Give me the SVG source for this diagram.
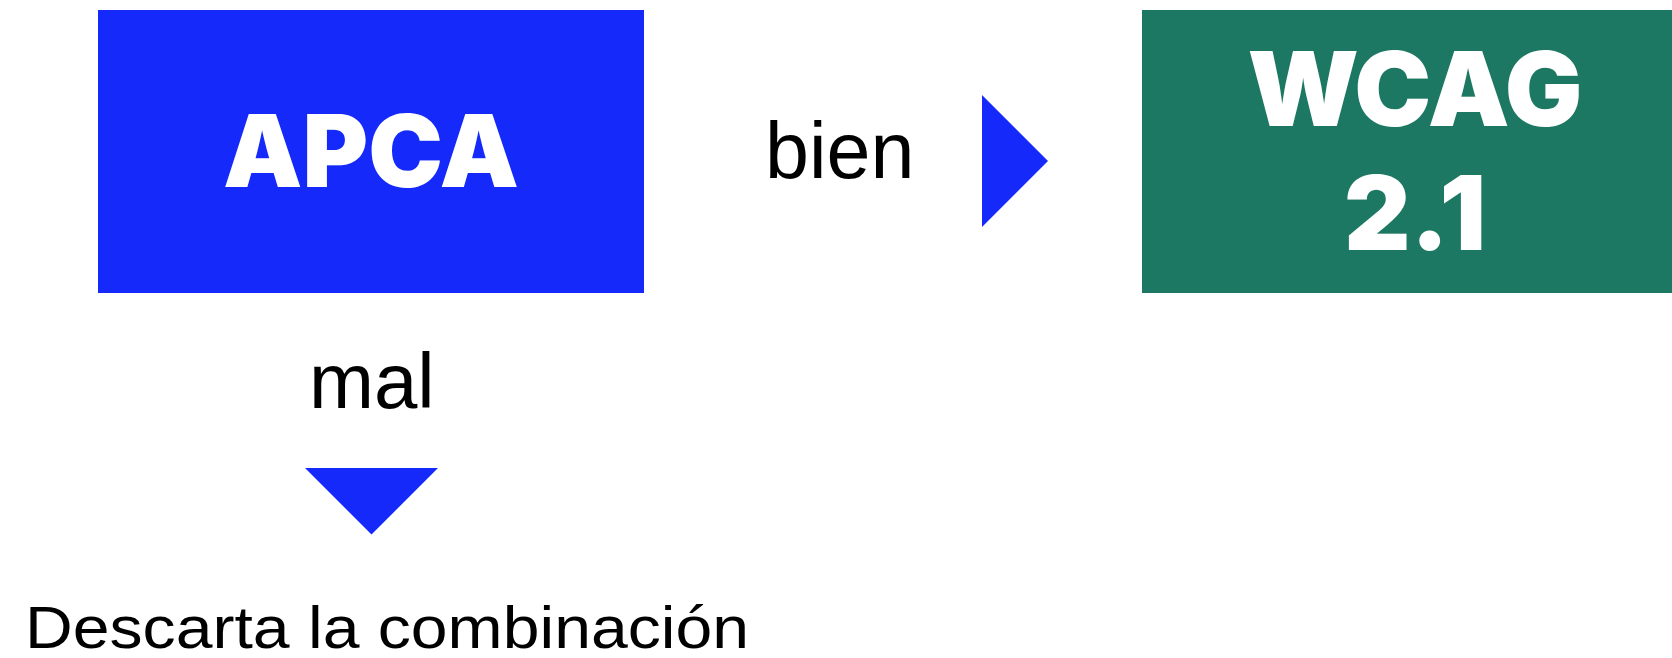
<svg xmlns="http://www.w3.org/2000/svg" width="1672" height="658" viewBox="0 0 1672 658">
<style>
.box-title{font-family:Inter,"Lato","Liberation Sans",sans-serif;font-weight:900;fill:#ffffff;text-anchor:middle}
.lbl{font-family:"Liberation Sans",Arial,sans-serif;fill:#000000}
.arrow{fill:#1529FA}
</style>
<rect width="1672" height="658" fill="#ffffff"/>
<g id="apca">
<rect x="98" y="10" width="546" height="283" fill="#1529FA"/>
<text class="box-title" x="371" y="187" font-size="100">APCA</text>
</g>
<g id="wcag">
<rect x="1142" y="10" width="530" height="283" fill="#1C7862"/>
<text class="box-title" x="1415" y="126" font-size="103">WCAG</text>
<text class="box-title" x="1415" y="250" font-size="103">2.1</text>
</g>
<g id="descarta">
<text class="lbl" x="25" y="648" font-size="60" textLength="724" lengthAdjust="spacingAndGlyphs">Descarta la combinación</text>
</g>
<g id="connectors">
<g id="edge-bien">
<text class="lbl" x="765" y="178" font-size="79">bien</text>
<polygon class="arrow" points="982,95 1048,161 982,227"/>
</g>
<g id="edge-mal">
<text class="lbl" x="309" y="408" font-size="78">mal</text>
<polygon class="arrow" points="305,468 438,468 371.5,534.5"/>
</g>
</g>
</svg>
